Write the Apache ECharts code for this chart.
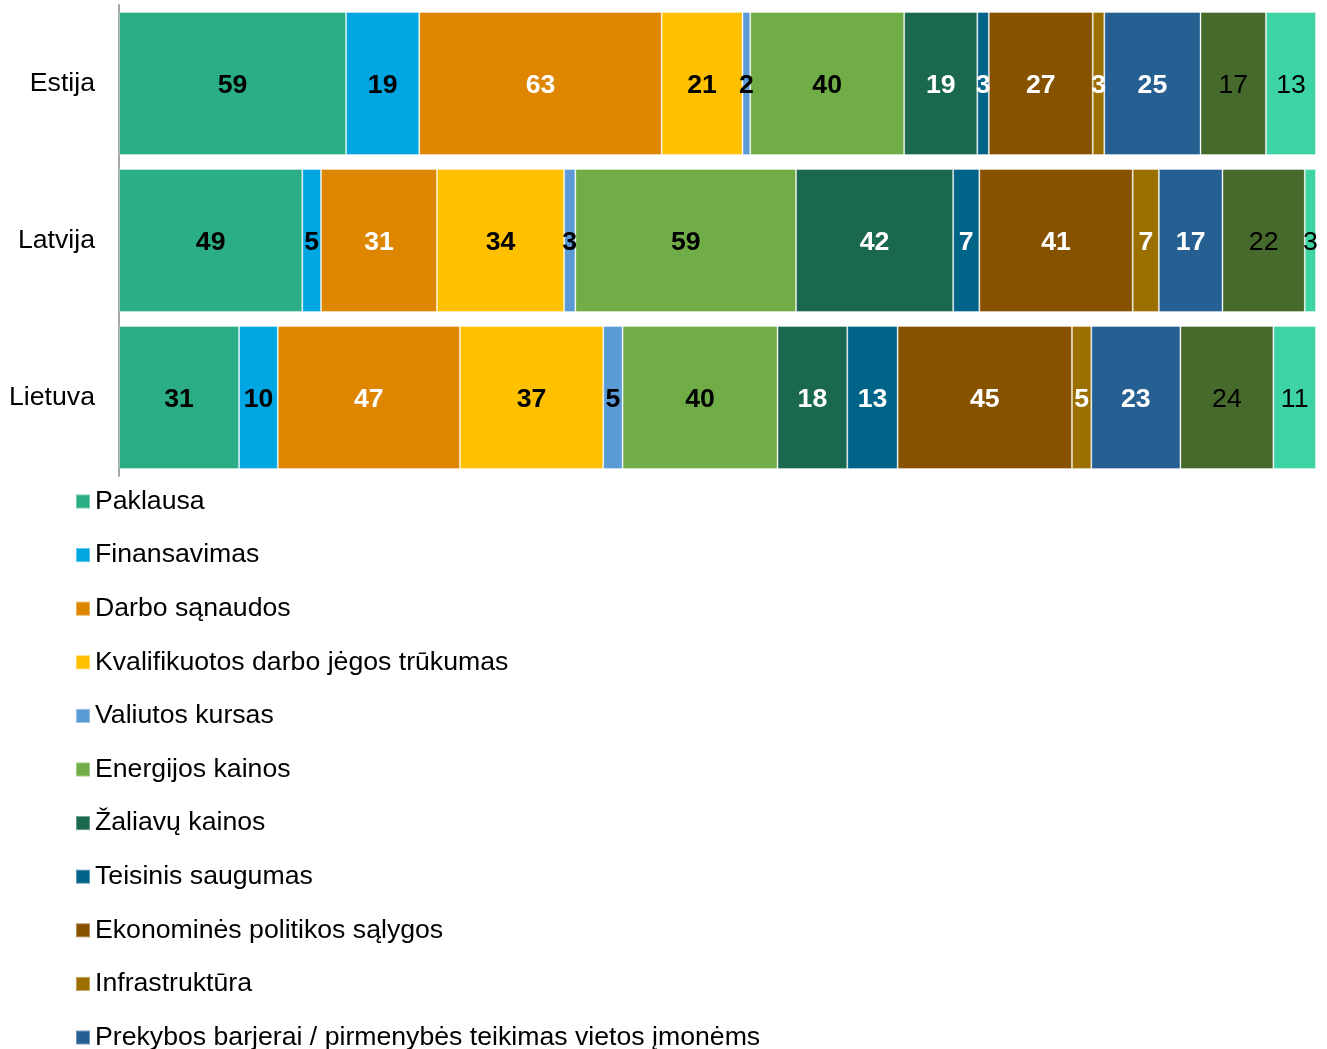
<!DOCTYPE html>
<html lang="lt">
<head>
    <meta charset="UTF-8">
    <title>Veiksniai</title>
    <style>
        html, body { margin: 0; padding: 0; background: #fff; overflow: hidden; }
        #chart { width: 1327px; height: 1049px; }
    </style>
</head>
<body>
    <div id="chart"></div>
    <script src="https://cdn.jsdelivr.net/npm/echarts@6/dist/echarts.min.js"></script>
    <script>
        // šalys
        let countries = ['Estija', 'Latvija', 'Lietuva'];

        // serijos (reikšmės: Estija, Latvija, Lietuva)
        let paklausa       = [59, 49, 31];
        let finansavimas   = [19, 5, 10];
        let darboSanaudos  = [63, 31, 47];
        let kvalifikuotos  = [21, 34, 37];
        let valiutosKursas = [2, 3, 5];
        let energijos      = [40, 59, 40];
        let zaliavu        = [19, 42, 18];
        let teisinis       = [3, 7, 13];
        let ekonomines     = [27, 41, 45];
        let infrastruktura = [3, 7, 5];
        let prekybos       = [25, 17, 23];
        let geopolitine    = [17, 22, 24];
        let kita           = [13, 3, 11];

        let seriesNames = [
            'Paklausa', 'Finansavimas', 'Darbo sąnaudos', 'Kvalifikuotos darbo jėgos trūkumas',
            'Valiutos kursas', 'Energijos kainos', 'Žaliavų kainos', 'Teisinis saugumas',
            'Ekonominės politikos sąlygos', 'Infrastruktūra',
            'Prekybos barjerai / pirmenybės teikimas vietos įmonėms',
            'Geopolitinė situacija', 'Kita'
        ];
        let seriesValues = [
            paklausa, finansavimas, darboSanaudos, kvalifikuotos, valiutosKursas, energijos,
            zaliavu, teisinis, ekonomines, infrastruktura, prekybos, geopolitine, kita
        ];
        let colors = [
            '#2BAE85', '#00A6E2', '#DE8600', '#FFC000', '#5B9BD5', '#70AD47',
            '#1A6850', '#006388', '#875200', '#9B7000', '#265F91', '#46692C', '#3ED3A4'
        ];
        let labelColors = [
            '#000', '#000', '#fff', '#000', '#000', '#000',
            '#fff', '#fff', '#fff', '#fff', '#fff', '#000', '#000'
        ];
        let labelWeights = [
            'bold', 'bold', 'bold', 'bold', 'bold', 'bold',
            'bold', 'bold', 'bold', 'bold', 'bold', 'normal', 'normal'
        ];

        let fontFamily = 'Liberation Sans, Arial, sans-serif';
        let fontSize = 26.67;

        // sumos kiekvienai šaliai (100 % juostos)
        let totals = countries.map(function(c, i) {
            return seriesValues.reduce(function(s, arr) { return s + arr[i]; }, 0);
        });

        let series = seriesNames.map(function(name, k) {
            return {
                name: name,
                type: 'bar',
                stack: 'total',
                barWidth: 143,
                data: seriesValues[k].map(function(v, i) {
                    return { value: v / totals[i], raw: v };
                }),
                itemStyle: {
                    color: colors[k],
                    borderColor: 'rgba(255,255,255,0.35)',
                    borderWidth: 1
                },
                label: {
                    show: true,
                    position: 'inside',
                    offset: [0, 2],
                    formatter: function(p) { return p.data.raw; },
                    color: labelColors[k],
                    fontWeight: labelWeights[k],
                    fontSize: fontSize,
                    fontFamily: fontFamily
                },
                emphasis: { disabled: true }
            };
        });

        let myChart = echarts.init(document.getElementById('chart'));

        let chartOption = {
            animation: false,
            color: colors,
            grid: {
                left: 119,
                right: 11,
                top: 5,
                bottom: 573
            },
            xAxis: {
                type: 'value',
                min: 0,
                max: 1,
                show: false
            },
            yAxis: {
                type: 'category',
                data: countries,
                inverse: true,
                axisLine: { show: true, lineStyle: { color: '#a6a6a6', width: 2 } },
                axisTick: { show: false },
                axisLabel: {
                    margin: 24,
                    fontSize: fontSize,
                    color: '#000',
                    fontFamily: fontFamily
                }
            },
            legend: {
                orient: 'vertical',
                left: 75,
                top: 488,
                height: 1000,
                padding: 0,
                itemWidth: 14,
                itemHeight: 14,
                itemGap: 26.6,
                icon: 'rect',
                textStyle: {
                    fontSize: fontSize,
                    lineHeight: 26.7,
                    color: '#000',
                    fontFamily: fontFamily
                },
                data: seriesNames
            },
            series: series
        };

        myChart.setOption(chartOption);
    </script>
</body>
</html>
